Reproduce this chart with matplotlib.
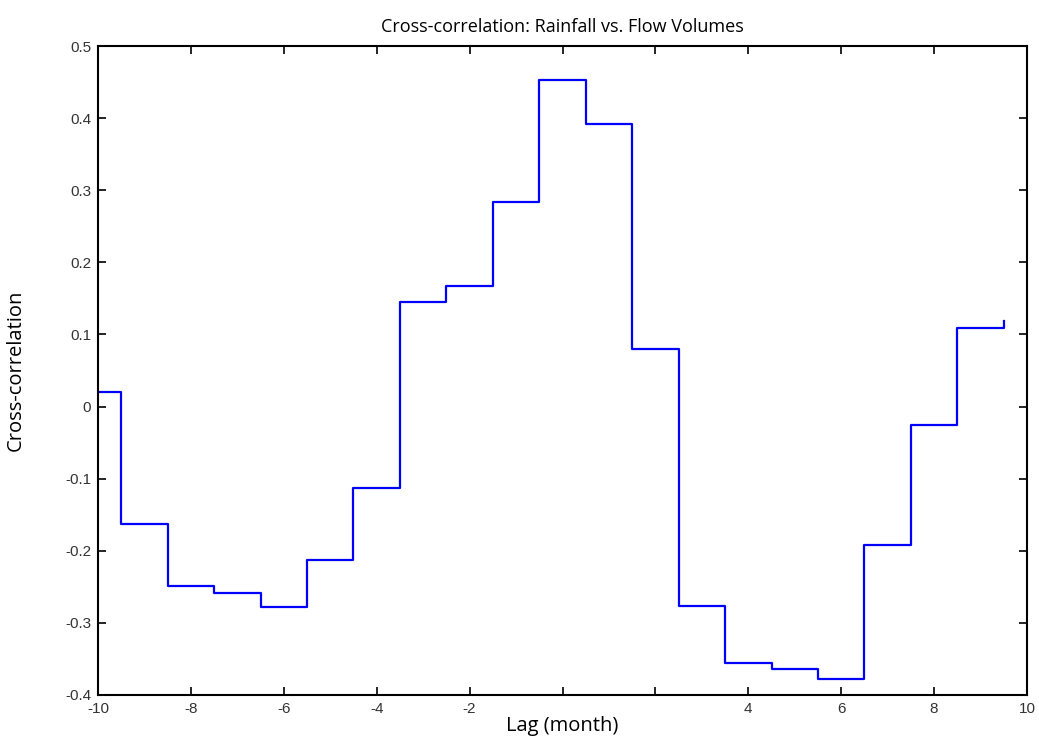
import numpy as np
import matplotlib
matplotlib.use('Agg')
from matplotlib import pyplot as plt

# lag (month) and cross-correlation values
lags = np.arange(-10, 11)
xcorr = [0.020, -0.163, -0.249, -0.259, -0.278, -0.213, -0.113, 0.145, 0.167, 0.284,
         0.453, 0.392, 0.080, -0.277, -0.356, -0.364, -0.378, -0.192, -0.026, 0.109, 0.118]
xticks = [-10, -8, -6, -4, -2, 0, 2, 4, 6, 8, 10]
xticklabels = ['-10', '-8', '-6', '-4', '-2', '', '', '4', '6', '8', '10']
yticks = [-0.4, -0.3, -0.2, -0.1, 0, 0.1, 0.2, 0.3, 0.4, 0.5]
yticklabels = ['-0.4', '-0.3', '-0.2', '-0.1', '0', '0.1', '0.2', '0.3', '0.4', '0.5']

# stairs edges: each value starts half a lag before its lag, clipped to the axis
edges = np.clip(lags - 0.5, -10, None)

fig = plt.figure(figsize=(10.39, 7.43), dpi=100)
ax = fig.add_axes([98/1039, 1-695/743, (1027-98)/1039, (695-46)/743])
ax.step(edges, xcorr, where='post', color='#0000ff', lw=1.6)

ax.set_xlim(-10, 10)
ax.set_ylim(-0.4, 0.5)
ax.set_xticks(xticks)
ax.set_xticklabels(xticklabels)
ax.set_yticks(yticks)
ax.set_yticklabels(yticklabels)
ax.tick_params(direction='in', top=True, right=True, length=6, width=1.2,
               labelsize=11, pad=5)
for lab in ax.get_xticklabels() + ax.get_yticklabels():
    lab.set_family('Liberation Sans')
    lab.set_color('#333333')
for s in ax.spines.values():
    s.set_linewidth(1.5)

ax.set_title('Cross-correlation: Rainfall vs. Flow Volumes', fontsize=13,
             family='Open Sans', pad=10)
ax.set_xlabel('Lag (month)', fontsize=14.5, family='Open Sans', labelpad=0)
ax.set_ylabel('Cross-correlation', fontsize=14.5, family='Open Sans', labelpad=28)

fig.savefig('out.png', dpi=100)
